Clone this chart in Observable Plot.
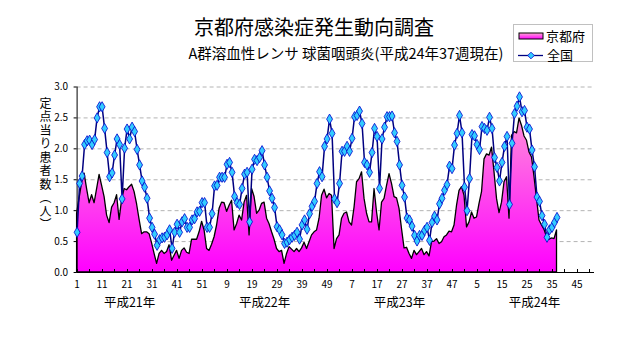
<!DOCTYPE html>
<html><head><meta charset="utf-8">
<script src="https://cdn.jsdelivr.net/npm/d3@7"></script>
<script src="https://cdn.jsdelivr.net/npm/@observablehq/plot@0.6"></script>
<style>
body{margin:0;background:#fff;}
#wrap{position:relative;width:632px;height:348px;font-family:"Noto Sans CJK JP",sans-serif;color:#000;overflow:hidden;}
#title{position:absolute;left:114px;width:400px;top:16px;text-align:center;font-size:20px;line-height:22px;white-space:nowrap;}
#subtitle{position:absolute;left:146px;width:400px;top:45px;text-align:center;font-size:14.5px;line-height:16px;white-space:nowrap;}
#ylabel{position:absolute;left:38px;top:97px;writing-mode:vertical-rl;font-size:12px;line-height:14px;letter-spacing:1.5px;}
#legend{position:absolute;left:513px;top:24px;}
#chart{position:absolute;left:0;top:0;}
</style></head><body>
<div id="wrap">
  <div id="chart"></div>
  <div id="title"></div>
  <div id="subtitle"></div>
  <div id="ylabel"></div>
  <div id="legend"></div>
</div>
<script>
const titleText = "京都府感染症発生動向調査";
const subtitleText = "A群溶血性レンサ 球菌咽頭炎(平成24年37週現在)";
const yLabelText = "定点当り患者数（人）";
const seriesNames = ["京都府", "全国"];
const yearLabels = ["平成21年", "平成22年", "平成23年", "平成24年"];
const weeksPerYear = 52;
const yTicks = [0, 0.5, 1.0, 1.5, 2.0, 2.5, 3.0];

// 京都府 (weekly, 2009 wk1 .. 2012 wk37)
const kyoto = [
0.95,1.2,1.45,1.6,1.35,1.12,1.25,1.12,1.35,1.58,
1.4,1.22,0.92,0.8,1.05,1.12,1.25,0.85,1.17,1.35,
1.33,1.38,1.42,1.3,1.1,0.85,0.62,0.65,0.65,0.62,
0.47,0.3,0.14,0.3,0.35,0.30,0.33,0.44,0.19,0.27,
0.35,0.22,0.35,0.39,0.32,0.30,0.53,0.53,0.53,0.65,
0.82,0.68,0.38,0.35,0.45,0.57,0.76,1.03,1.13,1.12,
0.98,1.08,1.16,0.68,0.78,0.92,0.84,1.13,1.24,0.60,
1.35,1.22,0.95,1.0,1.11,1.13,0.87,0.78,0.65,0.53,
0.38,0.33,0.35,0.14,0.30,0.41,0.37,0.33,0.38,0.33,
0.39,0.48,0.38,0.49,0.60,0.65,0.68,0.87,1.24,1.34,
1.2,1.27,1.24,0.38,0.54,0.6,0.87,0.95,0.97,0.81,
0.76,1.05,1.46,1.51,1.62,1.19,0.95,0.81,0.81,1.35,
0.97,0.68,1.13,1.19,1.4,1.59,1.43,1.22,1.2,1.03,
0.70,0.39,0.4,0.30,0.22,0.35,0.28,0.33,0.38,0.28,
0.33,0.26,0.49,0.5,0.54,0.46,0.49,0.57,0.6,0.66,
0.65,0.76,1.08,1.32,1.38,1.24,0.73,0.81,0.97,0.87,
0.89,1.11,1.3,1.83,1.91,1.89,2.02,1.62,1.19,0.96,
1.13,1.46,1.54,0.87,2.21,2.27,2.25,2.49,2.37,2.2,
2.13,1.94,1.86,1.54,1.19,0.84,0.76,0.69,0.57,0.53,
0.55,0.54,0.68
];

// 全国 (weekly)
const zenkoku = [
0.65,1.44,1.56,2.07,2.13,2.14,2.07,2.15,2.5,2.68,
2.68,2.33,1.94,1.55,1.61,1.90,2.16,2.07,1.19,2.01,
2.32,2.16,2.35,2.28,1.99,1.74,1.48,1.38,1.20,0.88,
0.73,0.62,0.44,0.53,0.56,0.57,0.61,0.69,0.39,0.65,
0.78,0.65,0.82,0.87,0.73,0.73,0.85,0.87,0.98,0.99,
1.13,1.13,0.73,0.73,0.95,1.40,1.41,1.54,1.54,1.54,
1.75,1.78,1.62,1.23,1.13,1.10,1.36,1.59,1.62,0.82,
1.67,1.83,1.81,1.86,1.97,1.74,1.54,1.32,1.20,1.05,
0.74,0.69,0.61,0.47,0.49,0.53,0.57,0.60,0.65,0.54,
0.77,0.85,0.70,0.95,1.07,1.15,1.44,1.63,1.55,2.04,
2.16,2.48,2.25,1.19,1.13,1.44,1.96,1.96,2.04,1.96,
2.17,2.52,2.54,2.61,2.41,1.78,1.74,1.62,1.94,2.33,
2.20,1.36,2.16,2.35,2.52,2.52,2.53,2.26,2.12,1.74,
1.41,1.22,0.88,0.85,0.75,0.60,0.51,0.60,0.60,0.68,
0.73,0.52,0.81,0.91,0.85,1.11,1.20,1.33,1.42,1.72,
1.68,2.06,2.25,2.54,2.26,1.38,1.00,1.52,2.23,2.21,
2.07,1.99,2.36,2.33,2.30,2.51,2.33,1.86,1.70,1.48,
1.78,2.04,2.20,1.10,2.09,2.57,2.69,2.84,2.60,2.62,
2.35,2.32,1.98,1.71,1.22,1.15,0.92,0.78,0.57,0.69,
0.73,0.81,0.89
];

const totalWeeks = weeksPerYear * yearLabels.length; // 208 categories
const data = kyoto.map((v, i) => ({i, kyoto: v, zenkoku: zenkoku[i]}));
const labelTicks = d3.range(0, totalWeeks - 7, 10);
const minorTicks = d3.range(0, totalWeeks, 5);
const yearPos = yearLabels.map((d, k) => ({label: d, x: k * 54 + 21}));

const pinkTop = "#FFA8D4", pinkBottom = "#FF00FF";
const navy = "#000080", cyan = "#33CCFF", diamondStroke = "#0000CC";

function gradientDefs(index, scales) {
  const defs = d3.create("svg:defs");
  const g = defs.append("linearGradient").attr("id", "kgrad")
    .attr("gradientUnits", "userSpaceOnUse")
    .attr("x1", 0).attr("x2", 0)
    .attr("y1", scales.y(3)).attr("y2", scales.y(0));
  g.append("stop").attr("offset", "0%").attr("stop-color", pinkTop);
  g.append("stop").attr("offset", "100%").attr("stop-color", pinkBottom);
  return defs.node();
}

// short inward tick marks on the category axis
function minorTickMarks(index, scales) {
  const g = d3.create("svg:g").attr("stroke", "#000").attr("stroke-width", 1);
  const y0 = scales.y(0);
  for (const t of minorTicks) {
    const x = Math.round(scales.x(t)) + 0.5;
    g.append("line").attr("x1", x).attr("x2", x).attr("y1", y0).attr("y2", y0 - 3);
  }
  return g.node();
}

const chart = Plot.plot({
  width: 632, height: 348,
  marginLeft: 76.6, marginRight: 38, marginTop: 86.5, marginBottom: 76,
  style: {fontFamily: '"Noto Sans CJK JP", sans-serif', background: "transparent", color: "#000"},
  x: {type: "linear", domain: [0, totalWeeks - 1], axis: null},
  y: {domain: [0, 3], axis: null},
  marks: [
    gradientDefs,
    Plot.ruleY(yTicks.slice(1), {stroke: "#B4B4B4", strokeDasharray: "4,3", strokeWidth: 1}),
    Plot.areaY(data, {x: "i", y: "kyoto", fill: "url(#kgrad)", stroke: "#000", strokeWidth: 1.3, curve: "linear"}),
    Plot.ruleX([0], {stroke: "#000", strokeWidth: 1}),
    Plot.ruleY([0], {stroke: "#000", strokeWidth: 1}),
    minorTickMarks,
    Plot.lineY(data, {x: "i", y: "zenkoku", stroke: navy, strokeWidth: 1.5}),
    Plot.dot(data, {x: "i", y: "zenkoku", symbol: "diamond", r: 3.1, fill: cyan, stroke: diamondStroke, strokeWidth: 0.8}),
    Plot.axisY({ticks: yTicks, tickFormat: d3.format(".1f"), tickSize: 3, tickPadding: 6, fontSize: 10, label: null}),
    Plot.axisX({ticks: labelTicks, tickFormat: i => (i % weeksPerYear) + 1, tickSize: 0, tickPadding: 8, fontSize: 10, label: null}),
    Plot.text(yearPos, {x: "x", y: () => 0, text: "label", dy: 30, fontSize: 12.5, textAnchor: "middle"})
  ]
});
document.getElementById("chart").appendChild(chart);
document.getElementById("title").textContent = titleText;
document.getElementById("subtitle").textContent = subtitleText;
document.getElementById("ylabel").textContent = yLabelText;

// Legend
const lg = d3.select("#legend").append("svg").attr("width", 81).attr("height", 39)
  .style("font-family", '"Noto Sans CJK JP", sans-serif');
const lgd = lg.append("defs").append("linearGradient").attr("id", "lgrad").attr("x1", 0).attr("x2", 0).attr("y1", 0).attr("y2", 1);
lgd.append("stop").attr("offset", "0%").attr("stop-color", pinkTop);
lgd.append("stop").attr("offset", "100%").attr("stop-color", pinkBottom);
lg.append("rect").attr("x", 0.5).attr("y", 0.5).attr("width", 79).attr("height", 37).attr("fill", "#fff").attr("stroke", "#C0C0C0");
lg.append("rect").attr("x", 6).attr("y", 9).attr("width", 24).attr("height", 6).attr("fill", "url(#lgrad)").attr("stroke", "#000");
lg.append("text").attr("x", 33).attr("y", 17).attr("font-size", 13).text(seriesNames[0]);
lg.append("line").attr("x1", 5).attr("x2", 30).attr("y1", 31.5).attr("y2", 31.5).attr("stroke", navy).attr("stroke-width", 1.3);
lg.append("path").attr("d", d3.symbol(d3.symbolDiamond2, 28)()).attr("transform", "translate(18,31.5)").attr("fill", cyan).attr("stroke", diamondStroke).attr("stroke-width", 0.8);
lg.append("text").attr("x", 34).attr("y", 36).attr("font-size", 13).text(seriesNames[1]);
</script>
</body></html>
